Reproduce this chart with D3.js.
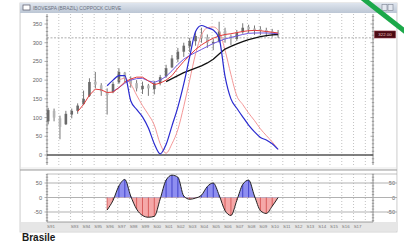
<!DOCTYPE html>
<html>
<head>
<meta charset="utf-8">
<script src="https://cdn.jsdelivr.net/npm/d3@7"></script>
<style>
body{margin:0;background:#fff}
svg{display:block;font-family:"Liberation Sans",Arial,sans-serif}
</style>
</head>
<body>
<svg id="chart" width="404" height="244"></svg>
<script>
// bar index 0..39, one value per bar
var priceOpen  = [90,118,98,82,108,118,136,158,196,186,168,168,194,220,204,192,176,186,176,192,210,234,256,276,290,304,322,314,298,304,332,318,310,328,342,338,336,334,330,326];
var priceHigh  = [126,124,105,118,124,138,172,205,222,192,178,196,232,222,210,200,196,190,198,214,241,267,286,300,313,330,340,322,310,356,340,322,334,352,348,346,344,340,337,334];
var priceLow   = [82,90,42,80,98,110,134,155,178,158,108,165,190,194,180,170,163,158,162,186,206,232,248,262,275,292,300,286,280,300,300,294,305,324,326,321,320,316,316,313];
var priceClose = [120,100,75,110,118,132,150,195,188,170,160,190,222,205,190,178,185,178,192,208,232,258,276,292,305,318,312,300,302,330,318,310,326,340,336,334,332,328,326,322];

var maRed = [null,null,null,null,null,116,135,160,176,174,167,168,180,195,203,208,208,198,188,192,200,212,232,250,266,282,294,304,312,318,322,324,327,330,332,333,332,330,328,326];
var maPurple = [null,null,null,null,null,null,null,null,null,null,null,170,180,192,200,204,205,198,194,200,210,225,242,256,266,274,282,290,298,304,310,314,318,322,325,326,326,326,325,324];
var maBlack = [null,null,null,null,null,null,null,null,null,null,null,null,null,null,null,null,null,null,null,null,196,204,212,220,226,232,238,246,256,270,283,290,297,303,308,312,316,319,321,322];
var oscBlue = [null,null,null,null,null,null,null,null,null,null,185,200,212,212,145,122,102,72,30,3,28,78,128,190,262,330,346,340,334,312,210,150,125,102,80,62,47,40,30,15];
var oscPink = [null,null,null,null,null,null,null,null,null,null,null,null,200,205,190,160,132,108,80,30,5,30,68,130,200,270,320,340,342,330,280,215,158,135,112,92,70,52,35,15];
var coppock = [null,null,null,null,null,null,null,null,null,null,-43,-10,40,62,5,-40,-62,-68,-65,-5,60,77,70,5,-6,-2,8,38,50,8,-45,-62,-10,45,60,5,-45,-55,-30,0];

var refLevel = 313;
var upperTicks = [0,50,100,150,200,250,300,350];
var lowerTicks = [-50,0,50];
var xLabels = ["S91","","S93","S94","S95","S96","S97","S98","S99","S00","S01","S02","S03","S04","S05","S06","S07","S08","S09","S10","S11","S12","S13","S14","S15","S16","S17",""];

var svg = d3.select("#chart");
var bars = d3.range(priceClose.length);

var x = d3.scaleLinear().domain([-0.2, 55.1]).range([47, 373]);
var yUp = d3.scaleLinear().domain([0, 350]).range([155, 24]);
var yLo = d3.scaleLinear().domain([-50, 50]).range([212, 183]);

var upTop = 14, upBot = 165, loTop = 174, loBot = 222;
var gridIdx = d3.range(1, 28).map(function(k){ return 2 * k - 0.2; });

// window frame
svg.append("rect").attr("x", 20).attr("y", 3).attr("width", 377).attr("height", 229)
  .attr("fill", "#f3f3f3").attr("stroke", "#c8c8c8").attr("stroke-width", 0.8);

var grad = svg.append("defs").append("linearGradient").attr("id", "tb").attr("x1", 0).attr("y1", 0).attr("x2", 0).attr("y2", 1);
grad.append("stop").attr("offset", "0%").attr("stop-color", "#dfe5ee");
grad.append("stop").attr("offset", "100%").attr("stop-color", "#bcc6d4");

svg.append("rect").attr("x", 20).attr("y", 3).attr("width", 377).attr("height", 10).attr("fill", "url(#tb)");
svg.append("rect").attr("x", 23).attr("y", 5).attr("width", 7).attr("height", 5)
  .attr("fill", "#fff").attr("stroke", "#556").attr("stroke-width", 0.7);
svg.append("text").attr("x", 33).attr("y", 10).attr("font-size", "4.8px").attr("fill", "#6a7080")
  .text("IBOVESPA (BRAZIL) COPPOCK CURVE");
[382, 388].forEach(function(bx){
  svg.append("rect").attr("x", bx).attr("y", 4.5).attr("width", 5).attr("height", 6)
    .attr("fill", "#e4e8f0").attr("stroke", "#7a8090").attr("stroke-width", 0.6);
});

// plot backgrounds
svg.append("rect").attr("x", 21).attr("y", 13).attr("width", 375).attr("height", upBot - 13 + 2).attr("fill", "#fff");
svg.append("rect").attr("x", 21).attr("y", 170).attr("width", 375).attr("height", loBot - 170).attr("fill", "#fff");
svg.append("rect").attr("x", 21).attr("y", loBot).attr("width", 377).attr("height", 9).attr("fill", "#e6e6e6");

// vertical dotted grid
[[upTop, upBot], [loTop, loBot]].forEach(function(r){
  svg.append("g").selectAll("line").data(gridIdx).join("line")
    .attr("x1", function(d){ return x(d); }).attr("x2", function(d){ return x(d); })
    .attr("y1", r[0]).attr("y2", r[1])
    .attr("stroke", "#a8a8a8").attr("stroke-width", 0.7).attr("stroke-dasharray", "1,2");
});

// upper axes
function axisTicks(scale, x0, top, bot, step, major, labels, labelX, anchor){
  var g = svg.append("g");
  g.append("line").attr("x1", x0).attr("x2", x0).attr("y1", top).attr("y2", bot).attr("stroke", "#777").attr("stroke-width", 0.8);
  var d0 = scale.invert(bot), d1 = scale.invert(top);
  var vals = d3.range(Math.ceil(d0 / step) * step, d1, step);
  g.selectAll("line.t").data(vals).join("line").attr("class", "t")
    .attr("x1", function(d){ return d % major === 0 ? x0 - 2.5 : x0 - 1.2; })
    .attr("x2", function(d){ return d % major === 0 ? x0 + 1 : x0 + 1.2; })
    .attr("y1", function(d){ return scale(d); }).attr("y2", function(d){ return scale(d); })
    .attr("stroke", "#777").attr("stroke-width", 0.6);
  if (labels) {
    g.selectAll("text").data(labels).join("text")
      .attr("x", labelX).attr("y", function(d){ return scale(d) + 2; })
      .attr("text-anchor", anchor).attr("font-size", "5.6px").attr("fill", "#666")
      .text(function(d){ return d; });
  }
}
axisTicks(yUp, 47, upTop, upBot, 10, 50, upperTicks, 42, "end");
axisTicks(yUp, 373, upTop, upBot, 10, 50, null);
axisTicks(yLo, 47, loTop, loBot, 10, 50, lowerTicks, 42, "end");
axisTicks(yLo, 373, loTop, loBot, 10, 50, lowerTicks, 395, "end");

// reference and zero lines (upper)
svg.append("line").attr("x1", 47).attr("x2", 373).attr("y1", yUp(refLevel)).attr("y2", yUp(refLevel))
  .attr("stroke", "#888").attr("stroke-width", 0.7).attr("stroke-dasharray", "2,1.5");
svg.append("line").attr("x1", 47).attr("x2", 373).attr("y1", yUp(0)).attr("y2", yUp(0))
  .attr("stroke", "#555").attr("stroke-width", 1.6);

// panel separators and lower horizontal lines
svg.append("line").attr("x1", 20).attr("x2", 397).attr("y1", 170).attr("y2", 170).attr("stroke", "#9a9a9a").attr("stroke-width", 1.2);
svg.append("line").attr("x1", 47).attr("x2", 397).attr("y1", loTop).attr("y2", loTop).attr("stroke", "#b0b0b0").attr("stroke-width", 0.8);
svg.append("g").selectAll("line").data(lowerTicks).join("line")
  .attr("x1", 47).attr("x2", 397).attr("y1", function(d){ return yLo(d); }).attr("y2", function(d){ return yLo(d); })
  .attr("stroke", "#a8a8a8").attr("stroke-width", 0.9);
svg.append("line").attr("x1", 47).attr("x2", 373).attr("y1", loBot).attr("y2", loBot).attr("stroke", "#888").attr("stroke-width", 0.8);

// x labels
svg.append("g").selectAll("text").data(xLabels).join("text")
  .attr("x", function(d, k){ return x(2 * k - 0.2) + 4; }).attr("y", 228)
  .attr("text-anchor", "middle").attr("font-size", "4.4px").attr("fill", "#777")
  .text(function(d){ return d; });

// price candles
var cg = svg.append("g");
cg.selectAll("line").data(bars).join("line")
  .attr("x1", function(i){ return x(i); }).attr("x2", function(i){ return x(i); })
  .attr("y1", function(i){ return yUp(priceHigh[i]); }).attr("y2", function(i){ return yUp(priceLow[i]); })
  .attr("stroke", "#555").attr("stroke-width", 0.8);
cg.selectAll("rect").data(bars).join("rect")
  .attr("x", function(i){ return x(i) - 1.3; }).attr("width", 2.6)
  .attr("y", function(i){ return yUp(Math.max(priceOpen[i], priceClose[i])); })
  .attr("height", function(i){ return Math.max(0.8, Math.abs(yUp(priceOpen[i]) - yUp(priceClose[i]))); })
  .attr("fill", function(i){ return priceClose[i] >= priceOpen[i] ? "#6a6a6a" : "#b4b4b4"; });

function drawLine(vals, scale, color, width, curve){
  var gen = d3.line().defined(function(i){ return vals[i] != null; })
    .x(function(i){ return x(i); }).y(function(i){ return scale(vals[i]); })
    .curve(curve || d3.curveLinear);
  svg.append("path").datum(bars).attr("d", gen).attr("fill", "none")
    .attr("stroke", color).attr("stroke-width", width).attr("stroke-linejoin", "round");
}
drawLine(oscPink, yUp, "#f28a8a", 0.9, d3.curveMonotoneX);
drawLine(maBlack, yUp, "#111", 1.3);
drawLine(maPurple, yUp, "#6f58e0", 1);
drawLine(maRed, yUp, "#e23a3a", 1);
drawLine(oscBlue, yUp, "#2a2ad0", 1.2, d3.curveMonotoneX);

// coppock: split fill above/below zero
var defs = svg.select("defs");
defs.append("clipPath").attr("id", "pos").append("rect").attr("x", 47).attr("y", loTop).attr("width", 326).attr("height", yLo(0) - loTop);
defs.append("clipPath").attr("id", "neg").append("rect").attr("x", 47).attr("y", yLo(0)).attr("width", 326).attr("height", loBot - yLo(0));
var cop = bars.filter(function(i){ return coppock[i] != null; });
var area = d3.area().x(function(i){ return x(i); }).y0(yLo(0)).y1(function(i){ return yLo(coppock[i]); }).curve(d3.curveMonotoneX);
svg.append("path").datum(cop).attr("d", area).attr("fill", "#8e8ef0").attr("clip-path", "url(#pos)");
svg.append("path").datum(cop).attr("d", area).attr("fill", "#f5a8a8").attr("clip-path", "url(#neg)");
svg.append("g").selectAll("line").data(cop).join("line")
  .attr("x1", function(i){ return x(i); }).attr("x2", function(i){ return x(i); })
  .attr("y1", yLo(0)).attr("y2", function(i){ return yLo(coppock[i]); })
  .attr("stroke", function(i){ return coppock[i] >= 0 ? "#3030c0" : "#d04a4a"; }).attr("stroke-width", 0.8);
svg.append("path").datum(cop)
  .attr("d", d3.line().x(function(i){ return x(i); }).y(function(i){ return yLo(coppock[i]); }).curve(d3.curveMonotoneX))
  .attr("fill", "none").attr("stroke", "#222").attr("stroke-width", 1);

// last price tag
var last = priceClose[priceClose.length - 1];
svg.append("rect").attr("x", 374.5).attr("y", yUp(last) - 3.5).attr("width", 21).attr("height", 7)
  .attr("fill", "#4a0a12").attr("stroke", "#8a3040").attr("stroke-width", 0.6);
svg.append("text").attr("x", 385).attr("y", yUp(last) + 1.6).attr("text-anchor", "middle")
  .attr("font-size", "4.4px").attr("fill", "#f0c4c8").text(last.toFixed(2));

// footer caption
svg.append("text").attr("x", 22).attr("y", 241).attr("font-size", "10px").attr("font-weight", "bold")
  .attr("fill", "#1a1a1a").text("Brasile");

// green corner stroke
svg.append("line").attr("x1", 361).attr("y1", -3).attr("x2", 407).attr("y2", 33)
  .attr("stroke", "#1ca84a").attr("stroke-width", 5);
</script>
</body>
</html>
